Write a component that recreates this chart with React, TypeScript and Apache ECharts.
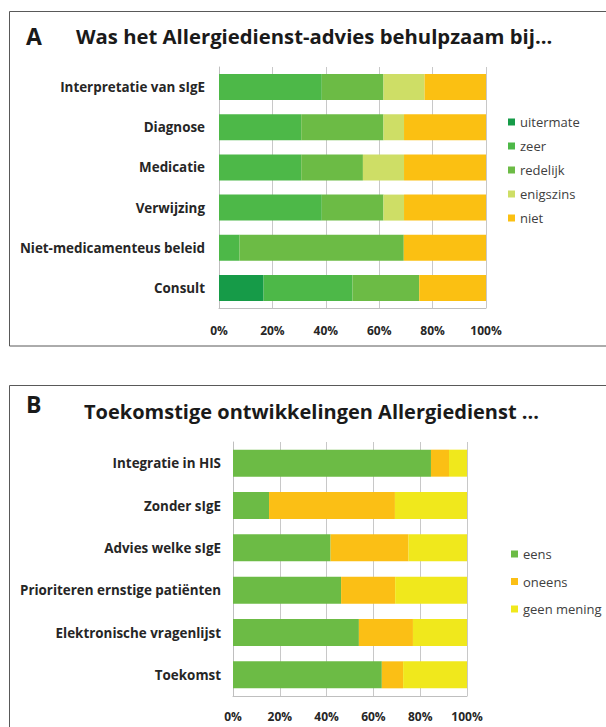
import React, { useEffect, useRef } from "react";
import * as echarts from "echarts";

const catsA = ["Interpretatie van sIgE", "Diagnose", "Medicatie", "Verwijzing", "Niet-medicamenteus beleid", "Consult"];
const seriesNamesA = ["uitermate", "zeer", "redelijk", "enigszins", "niet"];
const uitermate = [0, 0, 0, 0, 0, 16.7];
const zeer = [38.5, 30.8, 30.8, 38.5, 7.7, 33.3];
const redelijk = [23.1, 30.8, 23.1, 23.1, 61.5, 25];
const enigszins = [15.4, 7.7, 15.4, 7.7, 0, 0];
const niet = [23.1, 30.8, 30.8, 30.8, 30.8, 25];
const colorsA = ["#169B48", "#4DB848", "#6CBB45", "#CEDE66", "#FBC012"];

const catsB = ["Integratie in HIS", "Zonder sIgE", "Advies welke sIgE", "Prioriteren ernstige patiënten", "Elektronische vragenlijst", "Toekomst"];
const seriesNamesB = ["eens", "oneens", "geen mening"];
const eens = [84.6, 15.4, 41.7, 46.2, 53.8, 63.6];
const oneens = [7.7, 53.8, 33.3, 23.1, 23.1, 9.1];
const geenMening = [7.7, 30.8, 25, 30.8, 23.1, 27.3];
const colorsB = ["#6CBB45", "#FBBF15", "#F0E81C"];

const ticks = [0, 20, 40, 60, 80, 100];

const FONT = "Open Sans";
const TXT = "#262626";

export default function App() {
  const ref = useRef<HTMLDivElement>(null);
  useEffect(() => {
    if (!ref.current) return;
    const chart = echarts.init(ref.current, undefined, { renderer: "svg" });
    const dataA = [uitermate, zeer, redelijk, enigszins, niet];
    const dataB = [eens, oneens, geenMening];
    const xAxisBase = (gi: number, margin: number) => ({
      type: "value",
      gridIndex: gi,
      min: 0,
      max: 100,
      interval: 20,
      axisLine: { show: true, lineStyle: { color: "#BFBFBF" } },
      axisTick: { show: false },
      splitLine: { show: true, lineStyle: { color: "#C8C8C8" } },
      axisLabel: {
        formatter: (v: number) => (ticks.includes(v) ? v + "%" : ""),
        fontFamily: FONT,
        fontWeight: "bold",
        fontSize: 12,
        color: TXT,
        margin,
      },
    });
    const yAxisBase = (gi: number, cats: string[], margin: number) => ({
      type: "category",
      gridIndex: gi,
      data: cats,
      inverse: true,
      axisLine: { show: true, lineStyle: { color: "#BFBFBF" } },
      axisTick: { show: false },
      axisLabel: { fontFamily: FONT, fontWeight: "bold", fontSize: 13.4, color: TXT, margin },
    });
    const series: any[] = [];
    seriesNamesA.forEach((n, i) => {
      series.push({
        name: n,
        type: "bar",
        stack: "A",
        xAxisIndex: 0,
        yAxisIndex: 0,
        barWidth: 26,
        itemStyle: { color: colorsA[i] },
        data: dataA[i],
      });
    });
    seriesNamesB.forEach((n, i) => {
      series.push({
        name: n,
        type: "bar",
        stack: "B",
        xAxisIndex: 1,
        yAxisIndex: 1,
        barWidth: 27,
        itemStyle: { color: colorsB[i] },
        data: dataB[i],
      });
    });
    chart.setOption({
      animation: false,
      grid: [
        { left: 219, width: 267, top: 67, height: 241 },
        { left: 233, width: 234, top: 442, height: 254 },
      ],
      xAxis: [xAxisBase(0, 16), xAxisBase(1, 14)],
      yAxis: [yAxisBase(0, catsA, 14), yAxisBase(1, catsB, 12)],
      legend: [
        {
          data: seriesNamesA,
          orient: "vertical",
          left: 503,
          top: 109,
          itemWidth: 7,
          itemHeight: 7,
          itemGap: 8,
          icon: "rect",
          textStyle: { fontFamily: FONT, fontSize: 13, color: "#404040", lineHeight: 16 },
          selectedMode: false,
        },
        {
          data: seriesNamesB,
          orient: "vertical",
          left: 506,
          top: 541,
          itemWidth: 7,
          itemHeight: 7,
          itemGap: 11.5,
          icon: "rect",
          textStyle: { fontFamily: FONT, fontSize: 13, color: "#404040", lineHeight: 16 },
          selectedMode: false,
        },
      ],
      graphic: [
        { type: "rect", shape: { x: 9.5, y: 11.5, width: 640, height: 334.5 }, style: { fill: "none", stroke: "#595959", lineWidth: 1 } },
        { type: "rect", shape: { x: 9.5, y: 385.5, width: 640, height: 400 }, style: { fill: "none", stroke: "#595959", lineWidth: 1 } },
        { type: "text", x: 26, y: 36, style: { text: "A", fontFamily: FONT, fontWeight: "bold", fontSize: 23, fill: "#1a1a1a", verticalAlign: "middle" } },
        { type: "text", x: 76, y: 36, style: { text: "Was het Allergiedienst-advies behulpzaam bij...", fontFamily: FONT, fontWeight: "bold", fontSize: 20.3, fill: "#1a1a1a", verticalAlign: "middle" } },
        { type: "text", x: 26, y: 404, style: { text: "B", fontFamily: FONT, fontWeight: "bold", fontSize: 23, fill: "#1a1a1a", verticalAlign: "middle" } },
        { type: "text", x: 84, y: 411, style: { text: "Toekomstige ontwikkelingen Allergiedienst ...", fontFamily: FONT, fontWeight: "bold", fontSize: 20, fill: "#1a1a1a", verticalAlign: "middle" } },
      ],
      series,
    });
    return () => chart.dispose();
  }, []);
  return <div ref={ref} style={{ position: "fixed", left: 0, top: 0, width: 606, height: 727, background: "#fff" }} />;
}
